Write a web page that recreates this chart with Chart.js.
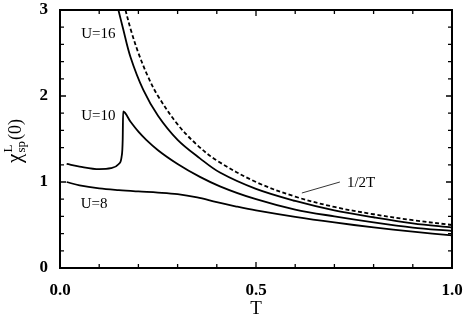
<!DOCTYPE html>
<html lang="en-US">
<head>
    <meta charset="UTF-8">
    <title>chi sp vs T</title>
    <script src="https://cdn.jsdelivr.net/npm/chart.js@4.4.1/dist/chart.umd.min.js"></script>
    <style>
        html, body { margin: 0; padding: 0; background: #fff; }
        #wrap { width: 463px; height: 324px; }
    </style>
</head>

<script>
    // values
    var tHalf = [0.167, 0.18, 0.2, 0.225, 0.25, 0.3, 0.35, 0.4, 0.5, 0.6, 0.7, 0.8, 0.9, 1.0];
    var chiHalf = [3.0, 2.78, 2.5, 2.22, 2.0, 1.67, 1.43, 1.25, 1.0, 0.83, 0.71, 0.625, 0.556, 0.5];

    var t16 = [0.149, 0.16, 0.18, 0.2125, 0.25, 0.3, 0.357, 0.408, 0.5, 0.6, 0.7, 0.8, 0.9, 1.0];
    var chi16 = [3.0, 2.8, 2.45, 2.07, 1.77, 1.49, 1.275, 1.11, 0.92, 0.78, 0.67, 0.59, 0.52, 0.47];

    var t10 = [0.017, 0.05, 0.1, 0.13, 0.15, 0.157, 0.16, 0.161, 0.18, 0.2, 0.22, 0.25, 0.3, 0.357, 0.408, 0.5, 0.6, 0.7, 0.8, 0.9, 1.0];
    var chi10 = [1.21, 1.18, 1.15, 1.16, 1.21, 1.29, 1.5, 1.82, 1.70, 1.585, 1.49, 1.37, 1.21, 1.06, 0.95, 0.8, 0.68, 0.6, 0.53, 0.47, 0.43];

    var t8 = [0.017, 0.05, 0.1, 0.15, 0.2, 0.25, 0.3, 0.35, 0.4, 0.45, 0.5, 0.6, 0.7, 0.8, 0.9, 1.0];
    var chi8 = [1.0, 0.96, 0.925, 0.905, 0.89, 0.877, 0.858, 0.82, 0.765, 0.715, 0.67, 0.595, 0.53, 0.472, 0.422, 0.38];

    var xTickLabels = ['0.0', '0.5', '1.0'];
    var yTickLabels = ['0', '1', '2', '3'];

    // curve labels, in data units
    var curveLabels = [
        { text: 'U=16', x: 0.098, y: 2.72 },
        { text: 'U=10', x: 0.098, y: 1.77 },
        { text: 'U=8', x: 0.087, y: 0.744 },
        { text: '1/2T', x: 0.768, y: 0.99 }
    ];
    var leader = [[0.714, 1.0], [0.617, 0.872]];

    function pts(xs, ys) {
        var out = [];
        for (var i = 0; i < xs.length; i++) out.push({ x: xs[i], y: ys[i] });
        return out;
    }

    var serif = '"Liberation Serif", "DejaVu Serif", serif';

    var framePlugin = {
        id: 'frame',
        afterDraw: function (chart) {
            var ctx = chart.ctx;
            var a = chart.chartArea;
            var xs = chart.scales.x, ys = chart.scales.y;
            ctx.save();
            ctx.strokeStyle = '#000';
            ctx.lineWidth = 2;
            ctx.strokeRect(a.left, a.top, a.right - a.left, a.bottom - a.top);

            ctx.lineWidth = 1.3;
            ctx.beginPath();
            xs.ticks.forEach(function (tk) {
                var px = xs.getPixelForValue(tk.value);
                var len = Math.abs(tk.value - 0.5) < 1e-6 ? 6 : 4;
                ctx.moveTo(px, a.bottom); ctx.lineTo(px, a.bottom - len);
                ctx.moveTo(px, a.top); ctx.lineTo(px, a.top + len);
            });
            ys.ticks.forEach(function (tk) {
                var py = ys.getPixelForValue(tk.value);
                var len = Math.abs(tk.value - Math.round(tk.value)) < 1e-6 ? 6 : 4;
                ctx.moveTo(a.left, py); ctx.lineTo(a.left + len, py);
                ctx.moveTo(a.right, py); ctx.lineTo(a.right - len, py);
            });
            ctx.stroke();

            // curve labels
            ctx.fillStyle = '#000';
            ctx.font = '15px ' + serif;
            ctx.textAlign = 'center';
            ctx.textBaseline = 'middle';
            curveLabels.forEach(function (l) {
                ctx.fillText(l.text, xs.getPixelForValue(l.x), ys.getPixelForValue(l.y));
            });
            ctx.lineWidth = 0.8;
            ctx.beginPath();
            ctx.moveTo(xs.getPixelForValue(leader[0][0]), ys.getPixelForValue(leader[0][1]));
            ctx.lineTo(xs.getPixelForValue(leader[1][0]), ys.getPixelForValue(leader[1][1]));
            ctx.stroke();

            // y axis title: chi^L_sp(0)
            ctx.translate(15, a.bottom - 127);
            ctx.rotate(-Math.PI / 2);
            ctx.textAlign = 'left';
            ctx.textBaseline = 'alphabetic';
            var parts = [
                { s: 'χ', f: '21px ' + serif, dy: 0, gap: 1 },
                { s: 'L', f: '13px ' + serif, dy: -9, keep: true },
                { s: 'sp', f: '13px ' + serif, dy: 4, gap: 1 },
                { s: '(0)', f: '18px ' + serif, dy: 0, gap: 0 }
            ];
            var total = 0;
            parts.forEach(function (p) {
                ctx.font = p.f;
                p.w = ctx.measureText(p.s).width;
                if (!p.keep) total += p.w + p.gap;
            });
            var x = -total / 2;
            parts.forEach(function (p) {
                ctx.font = p.f;
                ctx.fillText(p.s, x, 6 + p.dy);
                if (!p.keep) x += p.w + p.gap;
            });
            ctx.restore();
        }
    };

    window.onload = function () {
        var ctx = document.getElementById('myChart').getContext('2d');
        var lineStyle = { borderColor: '#000', borderWidth: 1.8, pointRadius: 0, fill: false, tension: 0.35 };
        var myChart = new Chart(ctx, {
            type: 'line',
            data: {
                datasets: [
                    Object.assign({ label: '1/2T', data: pts(tHalf, chiHalf), borderDash: [4, 2.5] }, lineStyle),
                    Object.assign({ label: 'U=16', data: pts(t16, chi16) }, lineStyle),
                    Object.assign({}, lineStyle, { label: 'U=10', data: pts(t10, chi10), cubicInterpolationMode: 'monotone' }),
                    Object.assign({ label: 'U=8', data: pts(t8, chi8) }, lineStyle)
                ]
            },
            options: {
                responsive: false,
                animation: false,
                layout: { padding: 0 },
                plugins: { legend: { display: false }, tooltip: { enabled: false } },
                scales: {
                    x: {
                        type: 'linear', min: 0, max: 1,
                        grid: { display: false, drawTicks: false },
                        border: { display: false },
                        ticks: {
                            stepSize: 0.1, padding: 12, maxRotation: 0, autoSkip: false,
                            color: '#000', font: { family: serif, size: 17, weight: 'bold' },
                            callback: function (v) {
                                var i = Math.round(v / 0.5);
                                return Math.abs(v - i * 0.5) < 1e-6 ? xTickLabels[i] : '';
                            }
                        },
                        title: { display: true, text: 'T', color: '#000', font: { family: serif, size: 19 }, padding: { top: 0, bottom: 4 } },
                        afterFit: function (s) { s.height = 56; s.paddingLeft = 0; s.paddingRight = 11; }
                    },
                    y: {
                        type: 'linear', min: 0, max: 3,
                        grid: { display: false, drawTicks: false },
                        border: { display: false },
                        ticks: {
                            stepSize: 0.2, padding: 12, autoSkip: false,
                            color: '#000', font: { family: serif, size: 17, weight: 'bold' },
                            callback: function (v) {
                                var i = Math.round(v);
                                return Math.abs(v - i) < 1e-6 ? yTickLabels[i] : '';
                            }
                        },
                        afterFit: function (s) { s.width = 60; s.paddingTop = 10; s.paddingBottom = 0; }
                    }
                }
            },
            plugins: [framePlugin]
        });
    };
</script>

<body>
    <div id="wrap"><canvas id="myChart" width="463" height="324"></canvas></div>
</body>

</html>
